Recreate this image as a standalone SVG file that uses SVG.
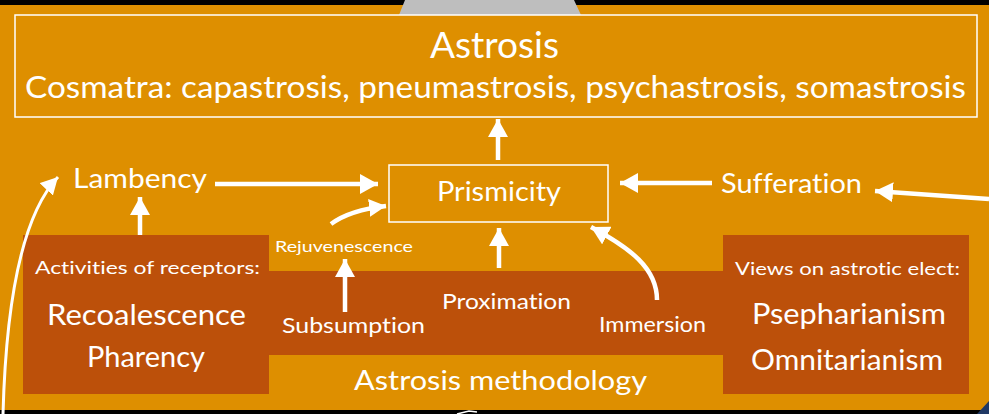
<svg xmlns="http://www.w3.org/2000/svg" width="989" height="414" viewBox="0 0 989 414">
<style>
.t{font-family:Lato,"Noto Sans","Liberation Sans",sans-serif;fill:#ffffff;font-variant-ligatures:none;font-feature-settings:"liga" 0,"clig" 0}
.c{fill:none;stroke:#ffffff;stroke-width:4.5}
.thin{fill:none;stroke:#ffffff;stroke-width:3}
.box{fill:none;stroke:#ffffff;stroke-width:1.5}
</style>
<defs>
<marker id="ah" markerUnits="userSpaceOnUse" markerWidth="20" markerHeight="20" refX="18" refY="10" orient="auto">
<path d="M0,0 L18,10 L0,20 Z" fill="#ffffff"/>
</marker>
<marker id="ahs" markerUnits="userSpaceOnUse" markerWidth="20" markerHeight="20" refX="17" refY="9" orient="auto">
<path d="M0,0 L17,9 L0,18 Z" fill="#ffffff"/>
</marker>
</defs>
<rect x="0" y="0" width="989" height="414" fill="#000000"/>
<rect x="0" y="5" width="989" height="405" fill="#DE8F00"/>
<polygon points="405,0 574,0 581,15 399,15" fill="#BEBEBE"/>
<polygon points="977,414 989,401 989,414" fill="#203864"/>
<path d="M457,414 L469,411 L477,412" fill="none" stroke="#ffffff" stroke-width="1.5"/>

<g id="methodology">
<path d="M23,235 H269 V271 H723 V235 H969 V394 H723 V355 H269 V394 H23 Z" fill="#BC500A"/>
<text class="t" x="354" y="390" font-size="27" textLength="293" lengthAdjust="spacingAndGlyphs">Astrosis methodology</text>
</g>

<g id="astrosis">
<rect class="box" x="15" y="15" width="962" height="102"/>
<text class="t" x="430" y="58" font-size="36" textLength="129" lengthAdjust="spacingAndGlyphs">Astrosis</text>
<text class="t" x="25" y="98" font-size="31" textLength="941" lengthAdjust="spacingAndGlyphs">Cosmatra: capastrosis, pneumastrosis, psychastrosis, somastrosis</text>
</g>

<g id="prismicity">
<rect class="box" x="389" y="165" width="219" height="57"/>
<text class="t" x="437" y="201" font-size="27" textLength="124" lengthAdjust="spacingAndGlyphs">Prismicity</text>
</g>

<g id="lambency">
<text class="t" x="73" y="188" font-size="27" textLength="134" lengthAdjust="spacingAndGlyphs">Lambency</text>
</g>

<g id="sufferation">
<text class="t" x="721" y="193" font-size="27" textLength="141" lengthAdjust="spacingAndGlyphs">Sufferation</text>
</g>

<g id="receptors">
<text class="t" x="35" y="274" font-size="18" textLength="225" lengthAdjust="spacingAndGlyphs">Activities of receptors:</text>
<text class="t" x="47" y="325" font-size="28" textLength="199" lengthAdjust="spacingAndGlyphs">Recoalescence</text>
<text class="t" x="87" y="367" font-size="28" textLength="118" lengthAdjust="spacingAndGlyphs">Pharency</text>
</g>

<g id="views">
<text class="t" x="735" y="275" font-size="18" textLength="225" lengthAdjust="spacingAndGlyphs">Views on astrotic elect:</text>
<text class="t" x="752" y="324" font-size="28" textLength="194" lengthAdjust="spacingAndGlyphs">Psepharianism</text>
<text class="t" x="751" y="370" font-size="28" textLength="192" lengthAdjust="spacingAndGlyphs">Omnitarianism</text>
</g>

<g id="rejuvenescence">
<text class="t" x="275" y="252" font-size="16" textLength="138" lengthAdjust="spacingAndGlyphs">Rejuvenescence</text>
</g>
<g id="subsumption">
<text class="t" x="282" y="333" font-size="21" textLength="143" lengthAdjust="spacingAndGlyphs">Subsumption</text>
</g>
<g id="proximation">
<text class="t" x="442" y="309" font-size="21" textLength="129" lengthAdjust="spacingAndGlyphs">Proximation</text>
</g>
<g id="immersion">
<text class="t" x="599" y="332" font-size="21" textLength="107" lengthAdjust="spacingAndGlyphs">Immersion</text>
</g>

<g id="connectors">
<line class="c" x1="498" y1="160" x2="498" y2="119" marker-end="url(#ah)"/>
<line class="c" x1="215" y1="184" x2="378" y2="184" marker-end="url(#ah)"/>
<line class="c" x1="712" y1="183" x2="620" y2="183" marker-end="url(#ah)"/>
<line class="c" x1="989" y1="199" x2="875" y2="191" marker-end="url(#ah)"/>
<line class="c" x1="140" y1="235" x2="140" y2="197" marker-end="url(#ah)"/>
<line class="c" x1="345" y1="312" x2="345" y2="259" marker-end="url(#ah)"/>
<line class="c" x1="499" y1="268" x2="499" y2="228" marker-end="url(#ah)"/>
<path class="c" d="M331,224 Q350,210 386,206" marker-end="url(#ahs)"/>
<path class="c" d="M657,300 C657,268 630,248 591,227" marker-end="url(#ah)"/>
<path class="thin" d="M3,414 Q8,230 58,177" marker-end="url(#ahs)"/>
</g>
</svg>
